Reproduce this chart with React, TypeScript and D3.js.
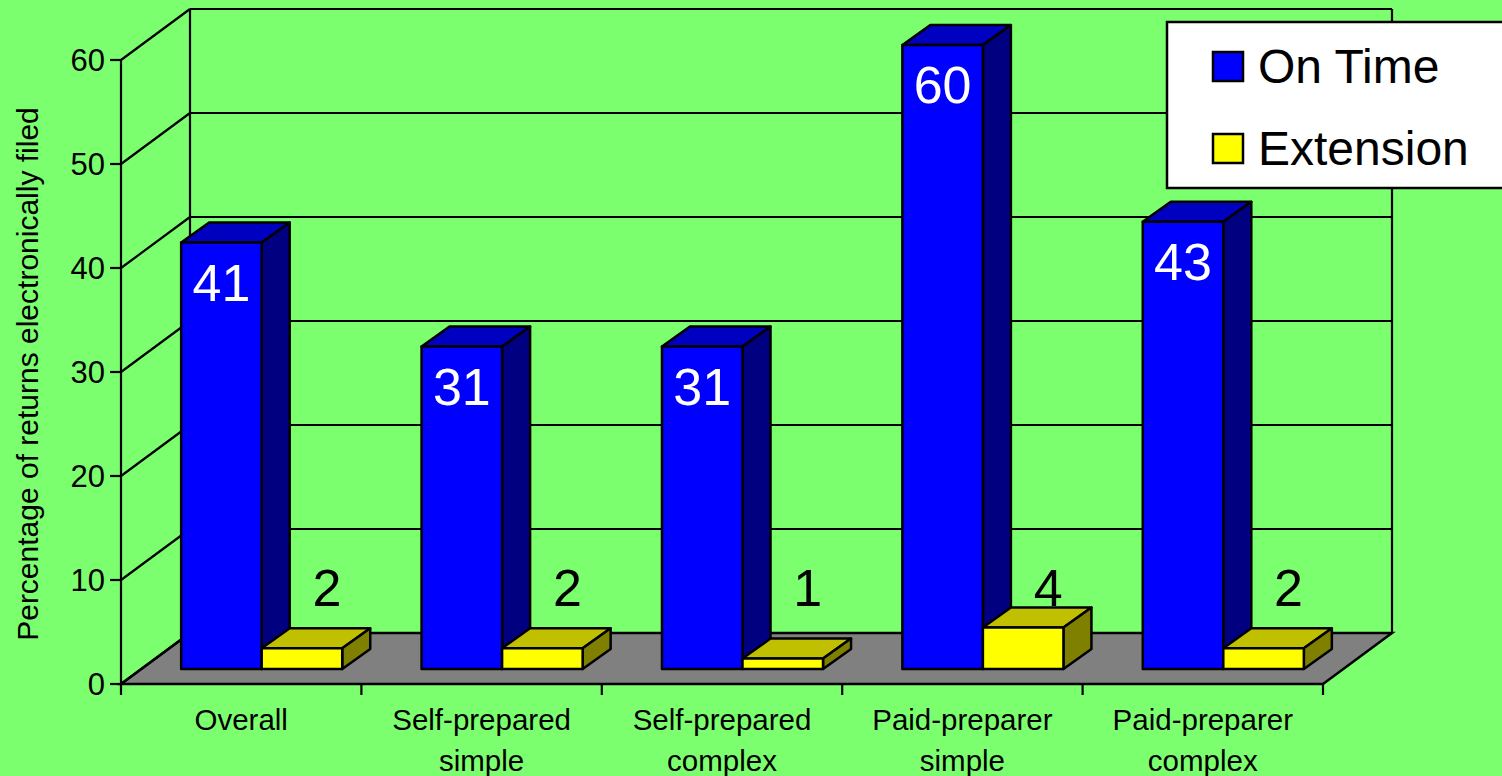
import * as d3 from 'd3';

const categories = [
  ['Overall'],
  ['Self-prepared', 'simple'],
  ['Self-prepared', 'complex'],
  ['Paid-preparer', 'simple'],
  ['Paid-preparer', 'complex'],
];
const onTime = [41, 31, 31, 60, 43];
const extension = [2, 2, 1, 4, 2];
const yTicks = [0, 10, 20, 30, 40, 50, 60];
const legendItems = ['On Time', 'Extension'];

const WIDTH = 1502;
const HEIGHT = 776;
const FONT = '"Liberation Sans", Arial, sans-serif';

// 3D box: front wall corner, how far the back wall is shifted
const left = 121;
const right = 1323;
const depth = { dx: 69, dy: -51 };
const barDepth = { dx: 28, dy: -20 };
const barInset = { dx: 20.5, dy: -15 };

const x = d3.scaleBand<number>().domain(d3.range(categories.length)).range([left, right]).paddingInner(0.33).paddingOuter(0.165);
const y = d3.scaleLinear().domain([0, 60]).range([684, 60]);

const COLORS = {
  bg: '#7bff6f',
  floor: '#808080',
  blue: ['#0000ff', '#0000c0', '#000080'],
  yellow: ['#ffff00', '#c0c000', '#808000'],
};

const pts = (p: number[][]) => p.map(d => d.join(',')).join(' ');

function Bar({ x0, w, value, colors }: { x0: number; w: number; value: number; colors: string[] }) {
  const bottom = y(0) + barInset.dy;
  const top = y(value) + barInset.dy;
  const { dx, dy } = barDepth;
  return (
    <g stroke="#000" strokeWidth={2.5} strokeLinejoin="round">
      <polygon fill={colors[1]} points={pts([[x0, top], [x0 + w, top], [x0 + w + dx, top + dy], [x0 + dx, top + dy]])} />
      <polygon fill={colors[2]} points={pts([[x0 + w, top], [x0 + w + dx, top + dy], [x0 + w + dx, bottom + dy], [x0 + w, bottom]])} />
      <rect fill={colors[0]} x={x0} y={top} width={w} height={bottom - top} />
    </g>
  );
}

export default function App() {
  const barW = x.bandwidth() / 2;
  const barX = (i: number) => (x(i) as number) + barInset.dx;

  return (
    <svg width={WIDTH} height={HEIGHT} style={{ position: 'absolute', left: 0, top: 0, display: 'block' }} fontFamily={FONT}>
      <rect width={WIDTH} height={HEIGHT} fill={COLORS.bg} />

      {/* floor */}
      <polygon
        fill={COLORS.floor}
        stroke="#000"
        strokeWidth={2.5}
        points={pts([[left, y(0)], [right, y(0)], [right + depth.dx, y(0) + depth.dy], [left + depth.dx, y(0) + depth.dy]])}
      />

      {/* walls and gridlines */}
      <g stroke="#000" strokeWidth={2.2} fill="none">
        {yTicks.map(t => (
          <g key={t}>
            <line x1={left - 11} x2={left} y1={y(t)} y2={y(t)} />
            <line x1={left} x2={left + depth.dx} y1={y(t)} y2={y(t) + depth.dy} />
            <line x1={left + depth.dx} x2={right + depth.dx} y1={y(t) + depth.dy} y2={y(t) + depth.dy} />
          </g>
        ))}
        <line x1={left} x2={left} y1={y(0)} y2={y(60)} />
        <line x1={left + depth.dx} x2={left + depth.dx} y1={y(0) + depth.dy} y2={y(60) + depth.dy} />
        <line x1={right + depth.dx} x2={right + depth.dx} y1={y(0) + depth.dy} y2={y(60) + depth.dy} />
        {d3.range(categories.length + 1).map(i => {
          const tx = left + (i * (right - left)) / categories.length;
          return <line key={i} x1={tx} x2={tx} y1={y(0)} y2={y(0) + 11} />;
        })}
      </g>

      {/* bars */}
      {categories.map((_, i) => (
        <g key={i}>
          <Bar x0={barX(i)} w={barW} value={onTime[i]} colors={COLORS.blue} />
          <Bar x0={barX(i) + barW} w={barW} value={extension[i]} colors={COLORS.yellow} />
          <text x={barX(i) + barW / 2} y={y(onTime[i]) + barInset.dy + 58} fill="#fff" fontSize={52} textAnchor="middle">
            {onTime[i]}
          </text>
          <text x={barX(i) + barW * 1.5 + 25} y={606} fill="#000" fontSize={52} textAnchor="middle">
            {extension[i]}
          </text>
        </g>
      ))}

      {/* axis labels */}
      {yTicks.map(t => (
        <text key={t} x={105} y={y(t) + 11} fontSize={31} textAnchor="end" fill="#000">
          {t}
        </text>
      ))}
      {categories.map((lines, i) =>
        lines.map((line, j) => (
          <text key={line + j} x={(x(i) as number) + x.bandwidth() / 2} y={730 + j * 41} fontSize={29.5} textAnchor="middle" fill="#000">
            {line}
          </text>
        )),
      )}
      <text transform="translate(38,374) rotate(-90)" fontSize={30} textAnchor="middle" fill="#000">
        Percentage of returns electronically filed
      </text>

      {/* legend */}
      <rect x={1167} y={22} width={345} height={166} fill="#fff" stroke="#000" strokeWidth={2.5} />
      {legendItems.map((name, i) => (
        <g key={name}>
          <rect
            x={1213}
            y={52 + i * 82}
            width={30}
            height={29}
            fill={i === 0 ? COLORS.blue[0] : COLORS.yellow[0]}
            stroke="#000"
            strokeWidth={2.5}
          />
          <text x={1258} y={83 + i * 82} fontSize={48} fill="#000">
            {name}
          </text>
        </g>
      ))}
    </svg>
  );
}
